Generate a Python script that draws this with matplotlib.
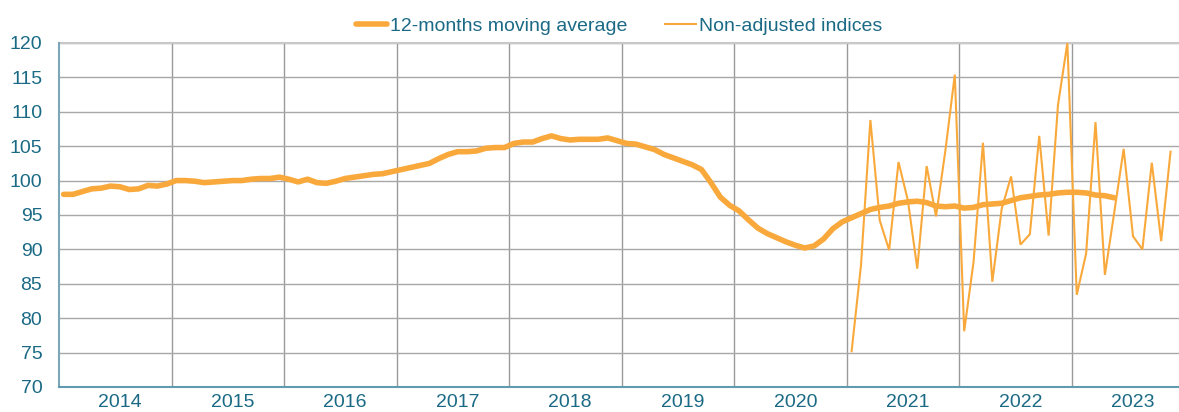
import matplotlib
matplotlib.use("Agg")
import matplotlib.pyplot as plt
import numpy as np

# dane miesieczne, pierwszy miesiac = styczen 2014
lata = [2014, 2015, 2016, 2017, 2018, 2019, 2020, 2021, 2022, 2023]

srednia_12m = [
    98.0, 98.0, 98.4, 98.8, 98.9, 99.2, 99.1, 98.7, 98.8, 99.3, 99.2, 99.5,          # 2014
    100.0, 100.0, 99.9, 99.7, 99.8, 99.9, 100.0, 100.0, 100.2, 100.3, 100.3, 100.5,  # 2015
    100.2, 99.8, 100.2, 99.7, 99.6, 99.9, 100.3, 100.5, 100.7, 100.9, 101.0, 101.3,  # 2016
    101.6, 101.9, 102.2, 102.5, 103.2, 103.8, 104.2, 104.2, 104.3, 104.7, 104.8, 104.8,  # 2017
    105.4, 105.6, 105.6, 106.1, 106.5, 106.1, 105.9, 106.0, 106.0, 106.0, 106.2, 105.8,  # 2018
    105.4, 105.3, 104.9, 104.5, 103.8, 103.3, 102.8, 102.3, 101.6, 99.7, 97.6, 96.4,  # 2019
    95.6, 94.3, 93.1, 92.3, 91.7, 91.1, 90.6, 90.2, 90.5, 91.5, 93.0, 94.0,           # 2020
    94.6, 95.2, 95.8, 96.1, 96.3, 96.7, 96.9, 97.0, 96.8, 96.3, 96.2, 96.3,          # 2021
    96.0, 96.1, 96.5, 96.6, 96.7, 97.1, 97.5, 97.7, 97.9, 98.0, 98.2, 98.3,          # 2022
    98.3, 98.2, 97.9, 97.8, 97.5,                                                    # 2023
]
start_srednia = 0  # styczen 2014

indeksy_surowe = [
    75.2, 87.7, 108.8, 94.2, 89.9, 102.7, 97.1, 87.2, 102.1, 94.8, 104.4, 115.4,     # 2021
    78.1, 88.2, 105.5, 85.3, 95.9, 100.6, 90.7, 92.2, 106.5, 92.0, 111.0, 120.0,     # 2022
    83.4, 89.4, 108.5, 86.3, 95.4, 104.6, 91.9, 90.0, 102.6, 91.2, 104.2,            # 2023
]
start_surowe = 84  # styczen 2021

kolor = "#F9A93B"
kolor_tekstu = "#1B6A85"

plt.rcParams['font.family'] = ['Liberation Sans', 'DejaVu Sans']

fig = plt.figure(figsize=(11.79, 4.12), dpi=100)
ax = fig.add_axes([0.05, 0.0607, 0.95, 0.835])

x1 = np.arange(len(srednia_12m)) + start_srednia
x2 = np.arange(len(indeksy_surowe)) + start_surowe
ax.plot(x1, srednia_12m, color=kolor, lw=4.0, solid_capstyle='round',
        solid_joinstyle='round', label="12-months moving average", zorder=3)
ax.plot(x2, indeksy_surowe, color=kolor, lw=1.5, solid_joinstyle='miter',
        label="Non-adjusted indices", zorder=4)

ax.set_xlim(-0.5, 118.9)
ax.set_ylim(70, 120)
ax.set_yticks(np.arange(70, 121, 5))

# etykiety lat na srodku roku, linie siatki na granicach lat
ax.set_xticks([12 * i + 6 for i in range(len(lata))])
ax.set_xticklabels([str(r) for r in lata])
ax.set_xticks([12 * i - 0.5 for i in range(1, len(lata))], minor=True)
ax.grid(True, which='minor', axis='x', color='#9a9a9a', lw=1.0)
ax.grid(True, which='major', axis='y', color='#a8a8a8', lw=1.0)
ax.grid(False, which='major', axis='x')
ax.axhline(120, color='#c8c8c8', lw=1.5, zorder=1, clip_on=False)
ax.set_axisbelow(True)

ax.tick_params(axis='both', which='both', length=0, colors=kolor_tekstu, labelsize=14)
ax.tick_params(axis='y', pad=12)
ax.tick_params(axis='x', pad=5)

for s in ['top', 'right']:
    ax.spines[s].set_visible(False)
ax.spines['left'].set_color('#7BA7B8')
ax.spines['left'].set_linewidth(1.5)
ax.spines['bottom'].set_color('#5E9BAE')
ax.spines['bottom'].set_linewidth(1.5)

leg = ax.legend(loc='lower center', bbox_to_anchor=(0.5, 1.0), ncol=2, frameon=False,
                fontsize=14, handlelength=1.6, handletextpad=0.15, columnspacing=1.9,
                borderaxespad=0.0)
for t in leg.get_texts():
    t.set_color(kolor_tekstu)

plt.savefig("out.png", dpi=100)
plt.close()
